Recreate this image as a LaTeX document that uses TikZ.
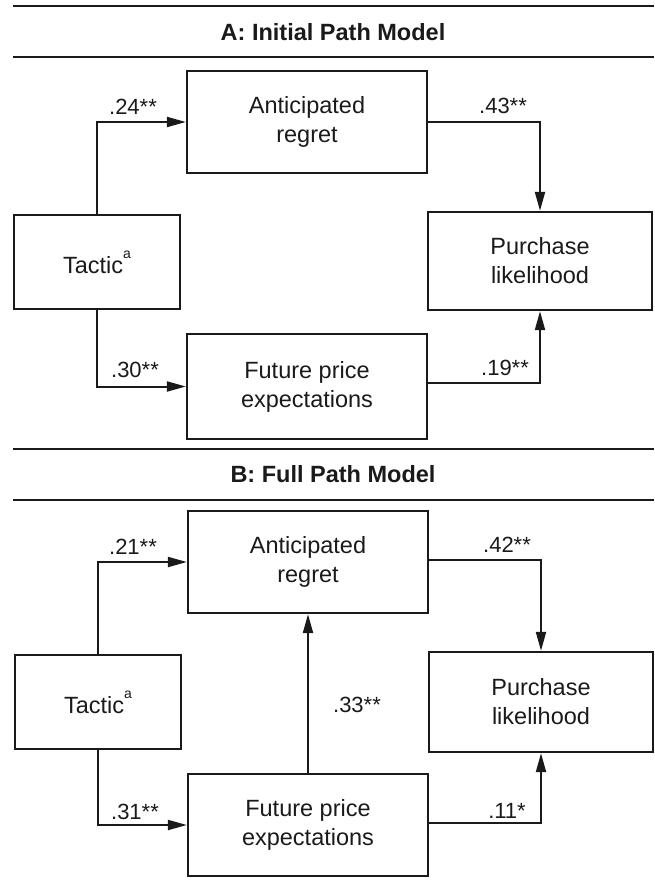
\documentclass[tikz,border=0pt]{standalone}
\usepackage{fontspec}
\setmainfont{Liberation Sans}
\usetikzlibrary{arrows.meta}
\definecolor{ink}{HTML}{1A1A1A}
\begin{document}
\begin{tikzpicture}[x=1pt,y=-1pt,
  box/.style={draw=ink, line width=2.3pt, inner sep=0pt, align=center,
    font=\fontsize{23.5}{29}\selectfont, text=ink},
  conn/.style={draw=ink, line width=2pt, -{Triangle[length=19pt,width=10pt]}},
  lab/.style={font=\fontsize{22}{26}\selectfont, text=ink, inner sep=0pt},
  rulebar/.style={draw=ink, line width=2.6pt},
  ttl/.style={font=\bfseries\fontsize{23.5}{27}\selectfont, text=ink, inner sep=0pt}]
\useasboundingbox (0,0) rectangle (654,886);
\newcommand{\tacticsup}{Tactic\raisebox{15pt}{\fontsize{14}{14}\selectfont a}}

% ---------- Panel A ----------
\draw[rulebar] (13,6) -- (654,6);
\node[ttl] (titleA) at (333,32) {A: Initial Path Model};
\draw[rulebar] (13,57) -- (654,57);

\node[box, minimum width=240pt, minimum height=102pt] (arA) at (307,122) {Anticipated\\regret};
\node[box, minimum width=166pt, minimum height=94pt] (tacA) at (97,262) {\tacticsup};
\node[box, minimum width=240pt, minimum height=105pt] (futA) at (307,386.5) {Future price\\expectations};
\node[box, minimum width=224pt, minimum height=98pt] (purA) at (540,261) {Purchase\\likelihood};

\draw[conn] (tacA.north) |- (arA.west);
\draw[conn] (tacA.south) |- (futA.west);
\draw[conn] (arA.east) -| (purA.north);
\draw[conn] ([yshift=4pt]futA.east) -| (purA.south);

\node[lab] (lA1) at (133,107) {.24**};
\node[lab] (lA2) at (135,370) {.30**};
\node[lab] (lA3) at (503,106) {.43**};
\node[lab] (lA4) at (505,368) {.19**};

% ---------- Panel B ----------
\draw[rulebar] (13,449) -- (654,449);
\node[ttl] (titleB) at (333,474) {B: Full Path Model};
\draw[rulebar] (13,500) -- (654,500);

\node[box, minimum width=240pt, minimum height=102pt] (arB) at (308,562) {Anticipated\\regret};
\node[box, minimum width=166pt, minimum height=94pt] (tacB) at (98,702) {\tacticsup};
\node[box, minimum width=240pt, minimum height=102pt] (futB) at (308,825) {Future price\\expectations};
\node[box, minimum width=224pt, minimum height=100pt] (purB) at (541,702) {Purchase\\likelihood};

\draw[conn] (tacB.north) |- (arB.west);
\draw[conn] (tacB.south) |- (futB.west);
\draw[conn] ([yshift=2pt]arB.east) -| (purB.north);
\draw[conn] ([yshift=2pt]futB.east) -| (purB.south);
\draw[conn] (futB.north) -- (arB.south);

\node[lab] (lB1) at (133,547) {.21**};
\node[lab] (lB2) at (135,812) {.31**};
\node[lab] (lB3) at (507,545) {.42**};
\node[lab] (lB4) at (507,811) {.11*};
\node[lab] (lB5) at (357,705) {.33**};
\end{tikzpicture}
\end{document}
